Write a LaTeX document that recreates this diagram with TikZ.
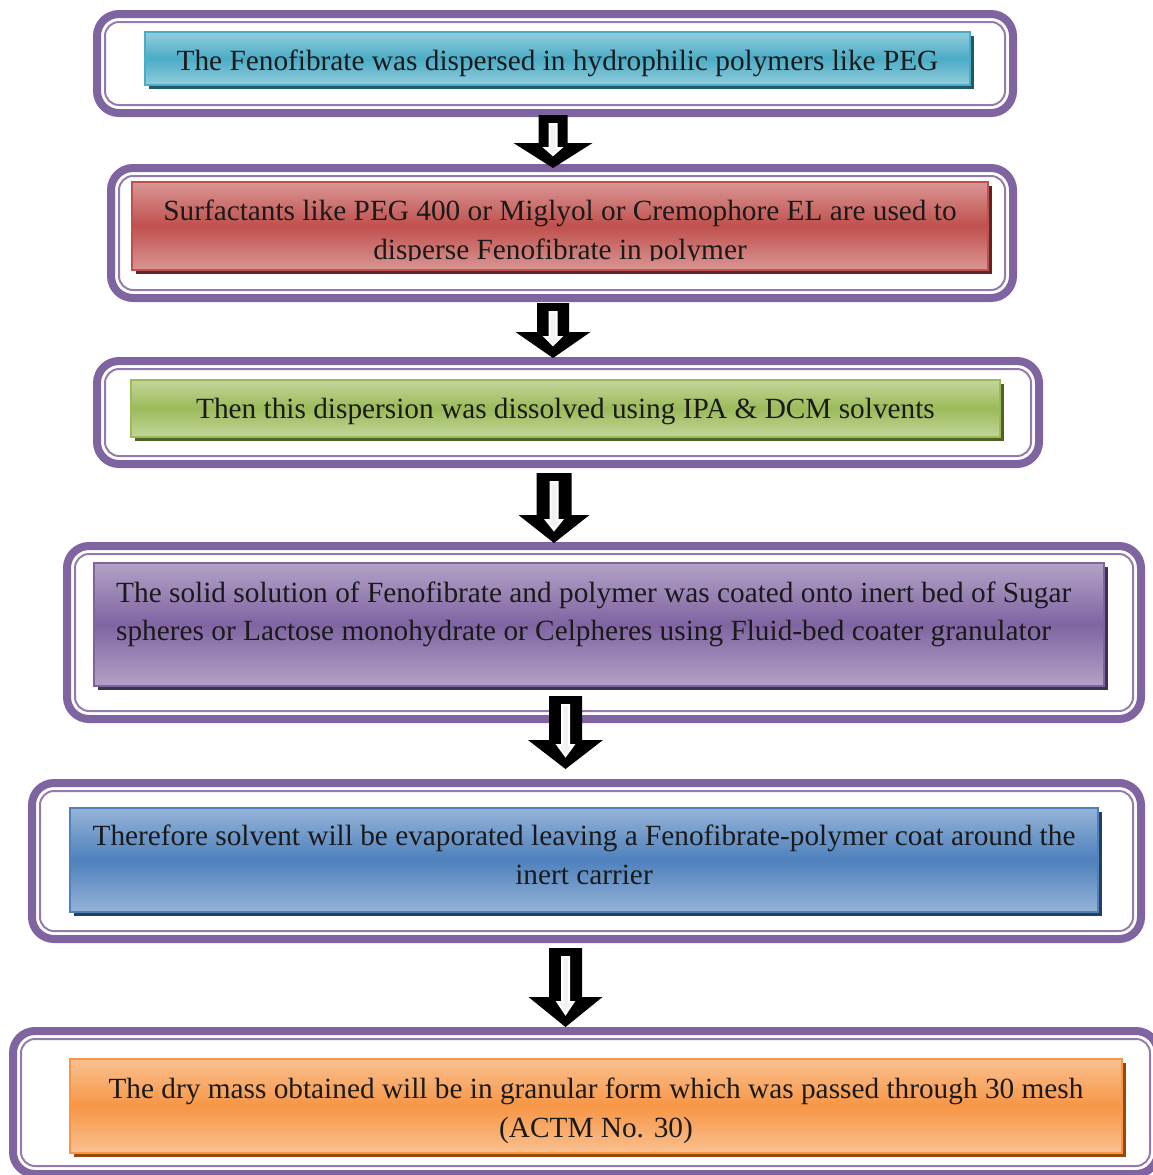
\documentclass[tikz,border=0pt]{standalone}
\usepackage{fontspec}
\setmainfont{Liberation Serif}
\usetikzlibrary{calc,shadows}
\definecolor{frm}{HTML}{8064A2}
\definecolor{txt}{HTML}{1A1A1A}
\definecolor{aquaL}{HTML}{93CDDD}\definecolor{aquaM}{HTML}{4BACC6}\definecolor{aquaD}{HTML}{215968}
\definecolor{redL}{HTML}{DA9694}\definecolor{redM}{HTML}{C0504D}\definecolor{redD}{HTML}{632523}
\definecolor{grnL}{HTML}{C3D69B}\definecolor{grnM}{HTML}{9BBB59}\definecolor{grnD}{HTML}{4F6228}
\definecolor{purL}{HTML}{B3A2C7}\definecolor{purM}{HTML}{8064A2}\definecolor{purD}{HTML}{3F3151}
\definecolor{bluL}{HTML}{95B3D7}\definecolor{bluM}{HTML}{4F81BD}\definecolor{bluD}{HTML}{244061}
\definecolor{orgL}{HTML}{FAC090}\definecolor{orgM}{HTML}{F79646}\definecolor{orgD}{HTML}{984807}
\tikzset{
  outerframe/.style={draw=frm, line width=8pt, rounded corners=22pt, rectangle, inner sep=0pt, outer sep=0pt},
  innerframe/.style={draw=frm!85, line width=2pt, rounded corners=14pt, rectangle, inner sep=0pt, outer sep=0pt},
  stepbox/.style={rectangle, draw=#1M, line width=1.5pt, inner sep=0pt, outer sep=0pt,
     top color=#1L, bottom color=#1L, middle color=#1M,
     drop shadow={fill=#1D, opacity=1, shadow xshift=3.5pt, shadow yshift=-4pt}},
  steptext/.style={font=\fontsize{29.3}{39}\selectfont, text=txt, inner sep=0pt, anchor=base},
  arrowbody/.style={fill=black},
  arrowcore/.style={fill=gray!10, draw=white, line width=2pt, line join=miter},
}
\newcommand{\blockarr}[6]{% name, wingdy, tipdy, hw, H  (relative to named top coordinate #1)
  \begin{scope}[shift={(#1)}]
    \fill[arrowbody] (-#4,0) -- (#4,0) -- (#4,#2) -- (#5,#2) -- (0,#3) -- (-#5,#2) -- (-#4,#2) -- cycle;
    \filldraw[arrowcore] (-3.5,9) -- (3.5,9) -- (3.5,#2+5) -- (8,#2+5) -- (0,#3-13) -- (-8,#2+5) -- (-3.5,#2+5) -- cycle;
  \end{scope}}
\begin{document}
\begin{tikzpicture}[x=1pt,y=-1pt]
\useasboundingbox (0,0) rectangle (1153,1175);
\clip (0,0) rectangle (1153,1175);
% frames
\node[outerframe, minimum width=916pt, minimum height=99pt] (f1) at (555,63.5) {};
\node[innerframe, minimum width=900pt, minimum height=83pt] (g1) at (555,63.5) {};
\node[outerframe, minimum width=902pt, minimum height=130pt] (f2) at (562,233) {};
\node[innerframe, minimum width=886pt, minimum height=114pt] (g2) at (562,233) {};
\node[outerframe, minimum width=942pt, minimum height=103pt] (f3) at (568,412.5) {};
\node[innerframe, minimum width=926pt, minimum height=87pt] (g3) at (568,412.5) {};
\node[outerframe, minimum width=1074pt, minimum height=173pt] (f4) at (604,632.5) {};
\node[innerframe, minimum width=1058pt, minimum height=157pt] (g4) at (604,632.5) {};
\node[outerframe, minimum width=1109pt, minimum height=156pt] (f5) at (586.5,861) {};
\node[innerframe, minimum width=1093pt, minimum height=140pt] (g5) at (586.5,861) {};
\node[outerframe, minimum width=1145pt, minimum height=143pt] (f6) at (585.5,1102.5) {};
\node[innerframe, minimum width=1129pt, minimum height=127pt] (g6) at (585.5,1102.5) {};
% boxes
\node[stepbox=aqua, minimum width=825pt, minimum height=53pt] (b1) at (557.5,58.5) {};
\node[stepbox=red, minimum width=856pt, minimum height=88pt] (b2) at (560,226) {};
\node[stepbox=grn, minimum width=869pt, minimum height=57pt] (b3) at (565.5,408.5) {};
\node[stepbox=pur, minimum width=1010pt, minimum height=123pt] (b4) at (599,624.5) {};
\node[stepbox=blu, minimum width=1028pt, minimum height=104pt] (b5) at (584,860) {};
\node[stepbox=org, minimum width=1052pt, minimum height=94pt] (b6) at (596,1106) {};
% texts
\node[steptext] (t1) at (557.5,70) {The Fenofibrate was dispersed in hydrophilic polymers like PEG};
\node[steptext] (t2a) at (560,220) {Surfactants like PEG 400 or Miglyol or Cremophore EL are used to};
\begin{scope}
\clip (132,182) rectangle (988,260);
\node[steptext] (t2b) at (560,259) {disperse Fenofibrate in polymer};
\end{scope}
\node[steptext] (t3) at (565.5,418) {Then this dispersion was dissolved using IPA \& DCM solvents};
\node[steptext, anchor=base west] (t4a) at (116,602) {\makebox[955pt][s]{The solid solution of Fenofibrate and polymer was coated onto inert bed of Sugar}};
\node[steptext, anchor=base west] (t4b) at (116,640) {spheres or Lactose monohydrate or Celpheres using Fluid-bed coater granulator};
\node[steptext] (t5a) at (584,845) {Therefore solvent will be evaporated leaving a Fenofibrate-polymer coat around the};
\node[steptext] (t5b) at (584,884) {inert carrier};
\node[steptext] (t6a) at (596,1098) {The dry mass obtained will be in granular form which was passed through 30 mesh};
\node[steptext] (t6b) at (596,1137) {(ACTM No. 30)};
% arrows
\coordinate (a1) at (553,115);
\coordinate (a2) at (553,303);
\coordinate (a3) at (554,473);
\coordinate (a4) at (565.5,696);
\coordinate (a5) at (565.5,948);
\blockarr{a1}{28}{53}{14.5}{39.5}{}
\blockarr{a2}{29}{55}{16}{37.5}{}
\blockarr{a3}{42}{70}{17.5}{35.5}{}
\blockarr{a4}{44}{73}{16.5}{37.5}{}
\blockarr{a5}{49}{79}{16.5}{37}{}
\end{tikzpicture}
\end{document}
